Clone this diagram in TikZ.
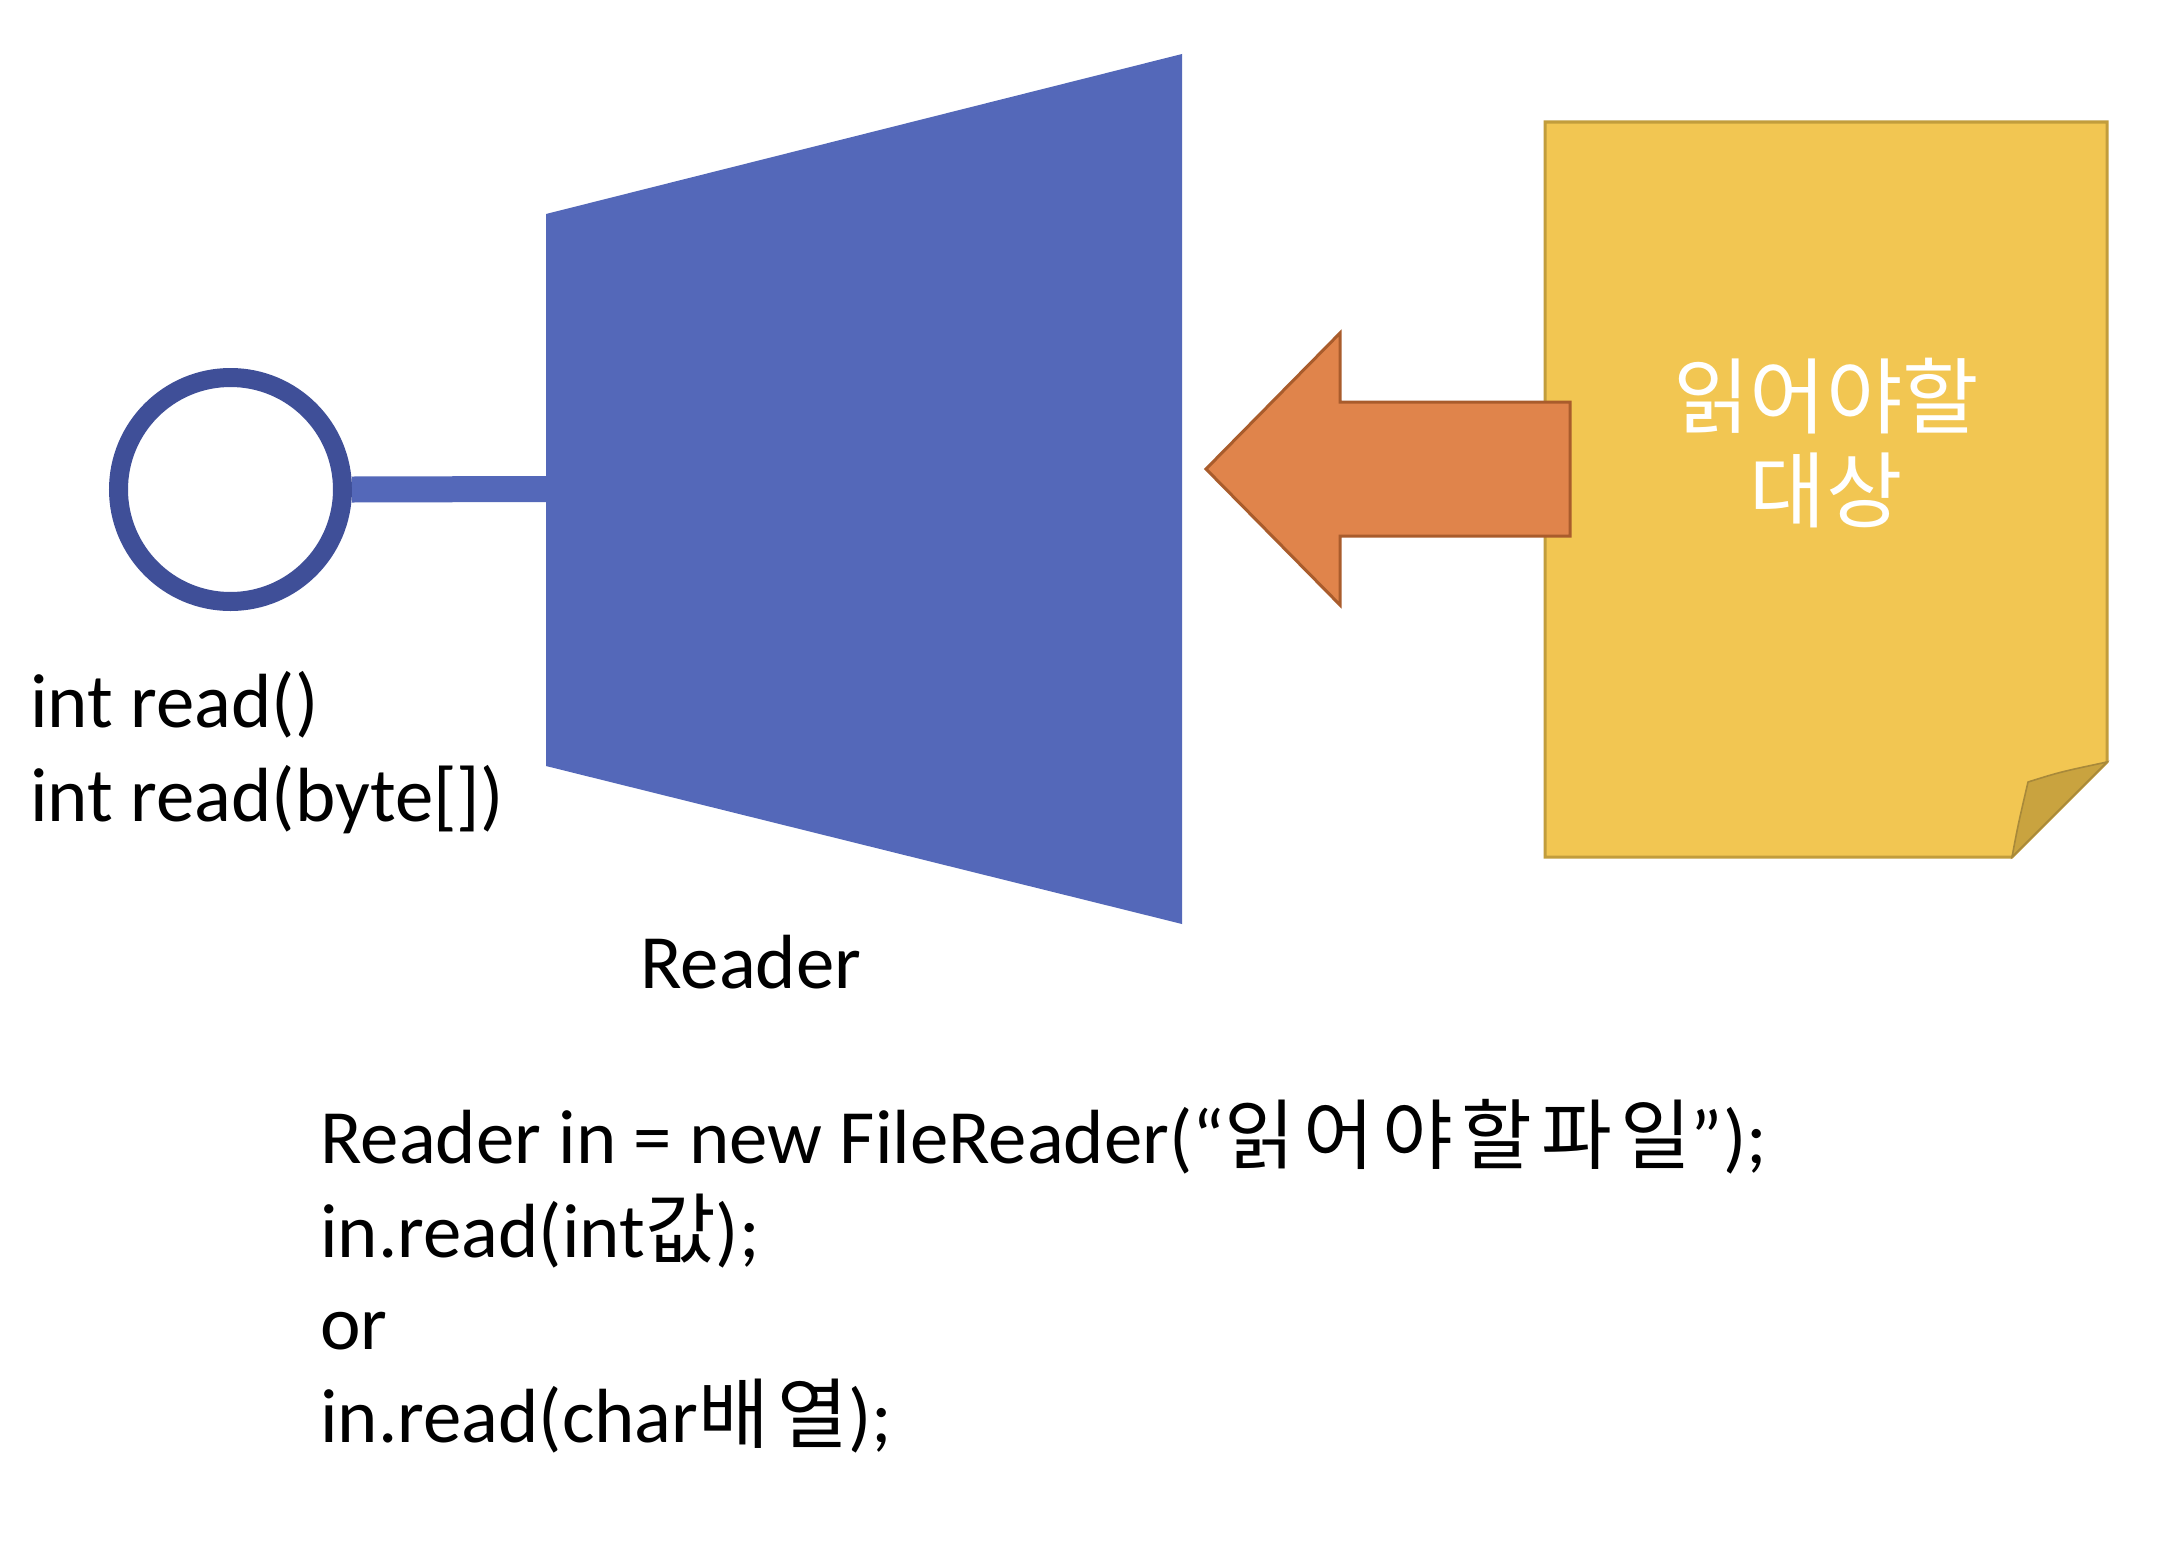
\documentclass[tikz,border=0pt]{standalone}
\usepackage{fontspec}
\setmainfont{Carlito}
\newfontfamily\kr{Noto Sans CJK KR}
\newfontfamily\krs[LetterSpace=11]{Noto Sans CJK KR}
\definecolor{ringblue}{HTML}{3F4F98}
\definecolor{trapblue}{HTML}{5468B9}
\definecolor{arroworange}{HTML}{E0844B}
\definecolor{arrowedge}{HTML}{A95C2C}
\definecolor{docyellow}{HTML}{F2C652}
\definecolor{docedge}{HTML}{C29D3C}
\definecolor{foldcol}{HTML}{C9A33F}
\definecolor{foldedge}{HTML}{A8893A}
\begin{document}
\begin{tikzpicture}[x=0.5pt,y=-0.5pt,
  txt/.style={anchor=base west, inner sep=0pt, font=\fontsize{38.4}{46}\selectfont, text=black},
  doctxt/.style={anchor=base, inner sep=0pt, font=\kr\fontsize{41.5}{50}\selectfont, text=white},
  ringstyle/.style={circle, draw=ringblue, line width=9.5pt, minimum size=112pt, inner sep=0pt},
  stemstyle/.style={draw=trapblue, line width=13pt}]
\useasboundingbox (0,0) rectangle (2166,1552);
\fill[white] (0,0) rectangle (2166,1552);

% Reader trapezoid
\coordinate (tTL) at (546,214);
\coordinate (tTR) at (1182,54);
\coordinate (tBR) at (1182,924);
\coordinate (tBL) at (546,766);
\coordinate (stemEnd) at (548,489);
\fill[trapblue] (tTL) -- (tTR) -- (tBR) -- (tBL) -- cycle;

% interface circle and stem
\node[ringstyle] (ring) at (230.5,489.5) {};
\draw[stemstyle] (ring.east) -- (stemEnd);

% document
\filldraw[fill=docyellow, draw=docedge, line width=1.5pt]
  (1545,122) -- (2107,122) -- (2107,762) -- (2012,857) -- (1545,857) -- cycle;
\filldraw[fill=foldcol, draw=foldedge, line width=0.8pt]
  (2012,857) .. controls (2018,825) .. (2028,782) .. controls (2060,772) .. (2107,762) -- cycle;
\node[doctxt] (d1) at (1826,427) {읽어야할};
\node[doctxt] (d2) at (1826,521) {대상};

% arrow
\filldraw[fill=arroworange, draw=arrowedge, line width=1.5pt]
  (1206,469) -- (1340,333) -- (1340,402) -- (1570,402) -- (1570,536) -- (1340,536) -- (1340,605) -- cycle;

% texts
\node[txt] (m1) at (30,727) {int read()};
\node[txt] (m2) at (30,821) {int read(byte[])};
\node[txt] (lbl) at (640,988) {Reader};

\node[txt] (c1) at (320,1163) {Reader in = new FileReader(“{\krs 읽어야할파일}”);};
\node[txt] (c2) at (320,1257) {in.read(int{\krs 값});};
\node[txt] (c3) at (320,1349) {or};
\node[txt] (c4) at (320,1442) {in.read(char{\krs 배열});};
\end{tikzpicture}
\end{document}
